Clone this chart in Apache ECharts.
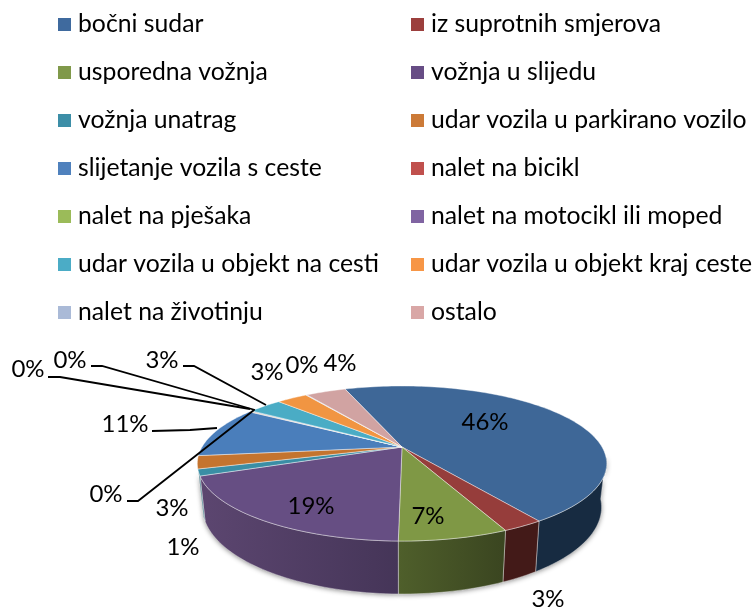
<!DOCTYPE html>
<html><head><meta charset="utf-8">
<style>html,body{margin:0;padding:0;background:#fff}#c{width:756px;height:610px}</style>
<script src="https://cdn.jsdelivr.net/npm/echarts@6/dist/echarts.min.js"></script>
</head><body><div id="c"></div>
<script>
const categories = ['bočni sudar','iz suprotnih smjerova','usporedna vožnja','vožnja u slijedu','vožnja unatrag','udar vozila u parkirano vozilo','slijetanje vozila s ceste','nalet na bicikl','nalet na pješaka','nalet na motocikl ili moped','udar vozila u objekt na cesti','udar vozila u objekt kraj ceste','nalet na životinju','ostalo'];
const values = [46.1,2.7,7.1,18.9,1.4,2.7,10.7,0.1,0.1,0.1,3.3,3.0,0.1,3.9];
const topColors = ['#3E6797','#963D3B','#7F9845','#664E83','#3A8EA5','#C4742F','#4A7EBB','#BE4B48','#98B954','#7D60A0','#4AACC5','#F19542','#A7B9D6','#D1A3A2'];
const legendColors = ['#3F6A9E','#9C3F3D','#80994A','#674D85','#3C8EA7','#CC7A37','#4F81BD','#C0504D','#9BBB59','#8064A2','#4BACC6','#F79646','#AABAD7','#D9A7A6'];
const wallLight = ['#172B41','#431A18','#4F5F2B','#5C4670','#2A6A7C','#8A5020','#2F5580','#80302E','#6A8238','#58436F','#2F7B90','#B06A2A','#77849B','#977270'];
const wallDark  = ['#172B41','#431A18','#3A4520','#453558','#2A6A7C','#8A5020','#2F5580','#80302E','#6A8238','#58436F','#2F7B90','#B06A2A','#77849B','#977270'];
const labelPos = [[485,422],[548,599],[428,516],[311,506],[183,547],[172,508],[125,424],[106,494],[28,369],[70,360],[162,360],[267,372],[302,365],[340,363]];
const leaders = {
  6:[[152,431],[190,430],[217,428]],
  7:[[127,501],[138,501],[254,410]],
  8:[[48,377],[60,377],[250,409]],
  9:[[91,366],[102,366],[255,410]],
  10:[[183,366],[194,366],[266,405]]
};
const FONT = 'Lato, Carlito, sans-serif';
const LABEL_SIZE = 24, LEGEND_SIZE = 24.75;

// perspective projection of the pie disc
const CX = 402, CY = 447, A = 200, B = 74, K = 0.213, H = 41.7, BOTTOM = 0.975, START = -20;
const total = values.reduce((a,b)=>a+b,0);
function proj(deg){
  const t = deg*Math.PI/180, x = Math.sin(t), y = -Math.cos(t), w = 1-K*y;
  return [CX + A*x/w, CY + B*y/w, w];
}
function projBottom(deg){
  const p = proj(deg);
  return [CX + (p[0]-CX)*BOTTOM, p[1] + H/p[2]];
}
function arc(a0,a1,f){
  const n = Math.max(2, Math.ceil((a1-a0)/1.5)), pts=[];
  for(let i=0;i<=n;i++) pts.push(f(a0+(a1-a0)*i/n));
  return pts;
}
const starts = []; values.reduce((acc,v,i)=>{starts[i]=acc; return acc+v;},0);

function makeRender(i){
  return function(params, api){
    const v = api.value(0);
    const a0 = START + starts[i]/total*360, a1 = a0 + v/total*360;
    const children = [];
    const w0 = Math.max(a0,97), w1 = Math.min(a1,251.5);
    if (w1 > w0){
      const pts = arc(w0,w1,d=>proj(d)).map(p=>[p[0],p[1]]).concat(arc(w0,w1,projBottom).reverse());
      const fill = new echarts.graphic.LinearGradient(0,0,1,0,[{offset:0,color:wallLight[i]},{offset:1,color:wallDark[i]}]);
      children.push({type:'polygon',z2:1,shape:{points:pts},style:{fill:'#999',shadowBlur:5,shadowColor:'rgba(0,0,0,0.45)',shadowOffsetY:1}});
      children.push({type:'polygon',z2:2+i/20,shape:{points:pts},style:{fill:fill,stroke:'rgba(255,255,255,0.55)',lineWidth:0.7}});
    }
    const top = [[CX,CY]].concat(arc(a0,a1,d=>proj(d)).map(p=>[p[0],p[1]]));
    children.push({type:'polygon',z2:5+i/20,shape:{points:top},style:{fill:topColors[i],stroke:'rgba(255,255,255,0.6)',lineWidth:0.7,lineJoin:'round'}});
    if (leaders[i]) children.push({type:'polyline',z2:8,shape:{points:leaders[i]},style:{fill:null,stroke:'#000',lineWidth:1.8}});
    children.push({type:'text',z2:9,style:{x:labelPos[i][0],y:labelPos[i][1],text:Math.round(v)+'%',fill:'#000',font:LABEL_SIZE+'px '+FONT,align:'center',verticalAlign:'middle'}});
    return {type:'group',children};
  };
}
const legendText = {fontFamily:FONT,fontSize:LEGEND_SIZE,color:'#000',padding:[0,0,0,2]};
const legendBase = {orient:'vertical',selectedMode:false,icon:'rect',itemWidth:13,itemHeight:13,itemGap:23,textStyle:legendText};
const chart = echarts.init(document.getElementById('c'),null,{renderer:'canvas'});
chart.setOption({
  animation:false,
  legend:[
    Object.assign({},legendBase,{left:53,top:7,data:categories.filter((c,i)=>i%2===0)}),
    Object.assign({},legendBase,{left:406,top:7,data:categories.filter((c,i)=>i%2===1)})
  ],
  series:categories.map((name,i)=>({
    type:'custom',name,coordinateSystem:'none',silent:true,
    itemStyle:{color:legendColors[i]},
    data:[[values[i]]],
    renderItem:makeRender(i)
  }))
});
</script></body></html>
